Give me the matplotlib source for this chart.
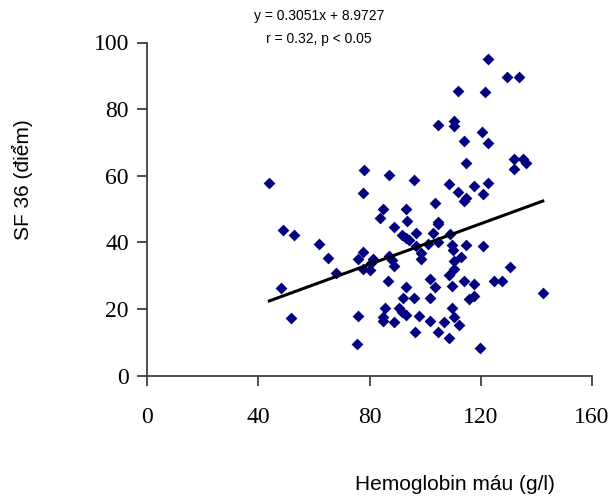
import matplotlib.pyplot as plt
import numpy as np

# hemoglobin (g/l) vs SF 36 score
hb = [44.0, 78.2, 77.8, 49.0, 52.8, 62.0, 64.9, 68.0, 48.3, 51.8,
      77.7, 75.9, 77.7, 80.0, 75.9, 75.5, 81.1, 80.6, 122.7, 129.5,
      133.7, 111.9, 121.5, 104.5, 110.5, 110.5, 113.8, 120.6, 122.5, 114.6,
      131.8, 131.8, 135.3, 136.4, 87.0, 95.9, 108.7, 117.4, 122.7, 111.9,
      120.7, 114.6, 113.8, 103.7, 84.7, 93.1, 83.6, 93.5, 104.5, 104.5,
      88.8, 96.7, 91.8, 93.0, 94.1, 102.7, 108.8, 104.5, 100.9, 96.7,
      109.7, 109.9, 114.7, 120.7, 98.5, 98.5, 112.9, 110.5, 110.5, 108.7,
      87.0, 88.0, 88.8, 86.5, 93.1, 92.1, 95.9, 101.8, 103.7, 101.8,
      109.7, 113.8, 117.5, 117.5, 115.7, 124.8, 127.7, 130.5, 142.3, 85.7,
      85.0, 84.7, 88.9, 90.7, 91.8, 93.0, 97.7, 96.2, 101.8, 104.5,
      106.9, 109.7, 110.5, 112.0, 108.7, 119.9]
sf36 = [57.8, 61.6, 54.7, 43.8, 42.3, 39.5, 35.3, 30.7, 26.3, 17.3,
        37.1, 34.9, 32.0, 31.7, 17.8, 9.5, 34.9, 33.9, 95.0, 89.5,
        89.5, 85.4, 85.0, 75.3, 76.3, 75.0, 70.3, 73.1, 69.8, 63.8,
        64.9, 62.0, 65.0, 63.8, 60.2, 58.8, 57.4, 56.9, 57.8, 55.0,
        54.6, 53.3, 52.4, 51.9, 50.0, 50.0, 47.2, 46.4, 46.1, 45.5,
        44.6, 42.8, 42.1, 41.4, 40.7, 42.8, 42.4, 40.2, 39.5, 38.9,
        39.3, 37.6, 39.3, 38.9, 36.9, 34.9, 35.5, 34.5, 32.1, 30.3,
        35.8, 34.7, 33.0, 28.5, 26.6, 23.4, 23.4, 28.9, 26.5, 23.4,
        27.0, 28.4, 27.5, 23.9, 23.0, 28.4, 28.4, 32.6, 24.8, 20.3,
        17.7, 16.4, 16.0, 20.3, 19.2, 18.3, 17.8, 13.1, 16.5, 13.1,
        16.0, 20.2, 17.5, 15.1, 11.4, 8.2]

slope = 0.3051
intercept = 8.9727
r_text = "r = 0.32, p < 0.05"

fig = plt.figure(figsize=(6.09, 4.96), dpi=100)
ax = fig.add_axes([147 / 609, 1 - 375.5 / 496, 445 / 609, 333 / 496])

ax.scatter(hb, sf36, marker='D', s=36, color='#000080', linewidths=0, zorder=3)

xl = np.array([min(hb), max(hb)])
ax.plot(xl, slope * xl + intercept, color='black', lw=2.2, zorder=4)

ax.set_xlim(0, 160)
ax.set_ylim(0, 100)
ax.set_xticks([0, 40, 80, 120, 160])
ax.set_yticks([0, 20, 40, 60, 80, 100])

for side in ['top', 'right']:
    ax.spines[side].set_visible(False)
for side in ['left', 'bottom']:
    ax.spines[side].set_color('#404040')
    ax.spines[side].set_linewidth(1.3)

serif = 'Liberation Serif'
ax.tick_params(axis='x', direction='out', length=7, width=1.3, color='#404040', pad=16)
ax.tick_params(axis='y', direction='out', length=7, width=1.3, color='#404040', pad=6)
for lab in ax.get_xticklabels() + ax.get_yticklabels():
    lab.set_fontfamily(serif)
    lab.set_fontsize(17)

sans = 'Liberation Sans'
fig.text(22 / 609, 1 - 180 / 496, "SF 36 (điểm)", rotation=90, ha='center', va='center',
         fontsize=15, family=sans)
fig.text(455 / 609, 1 - 485 / 496, "Hemoglobin máu (g/l)", ha='center', va='center',
         fontsize=15, family=sans)

fig.text(319 / 609, 1 - 16 / 496, f"y = {slope}x + {intercept}", ha='center', va='center',
         fontsize=10, family=sans)
fig.text(319 / 609, 1 - 39 / 496, r_text, ha='center', va='center',
         fontsize=10, family=sans)

fig.savefig('out.png', dpi=100)
